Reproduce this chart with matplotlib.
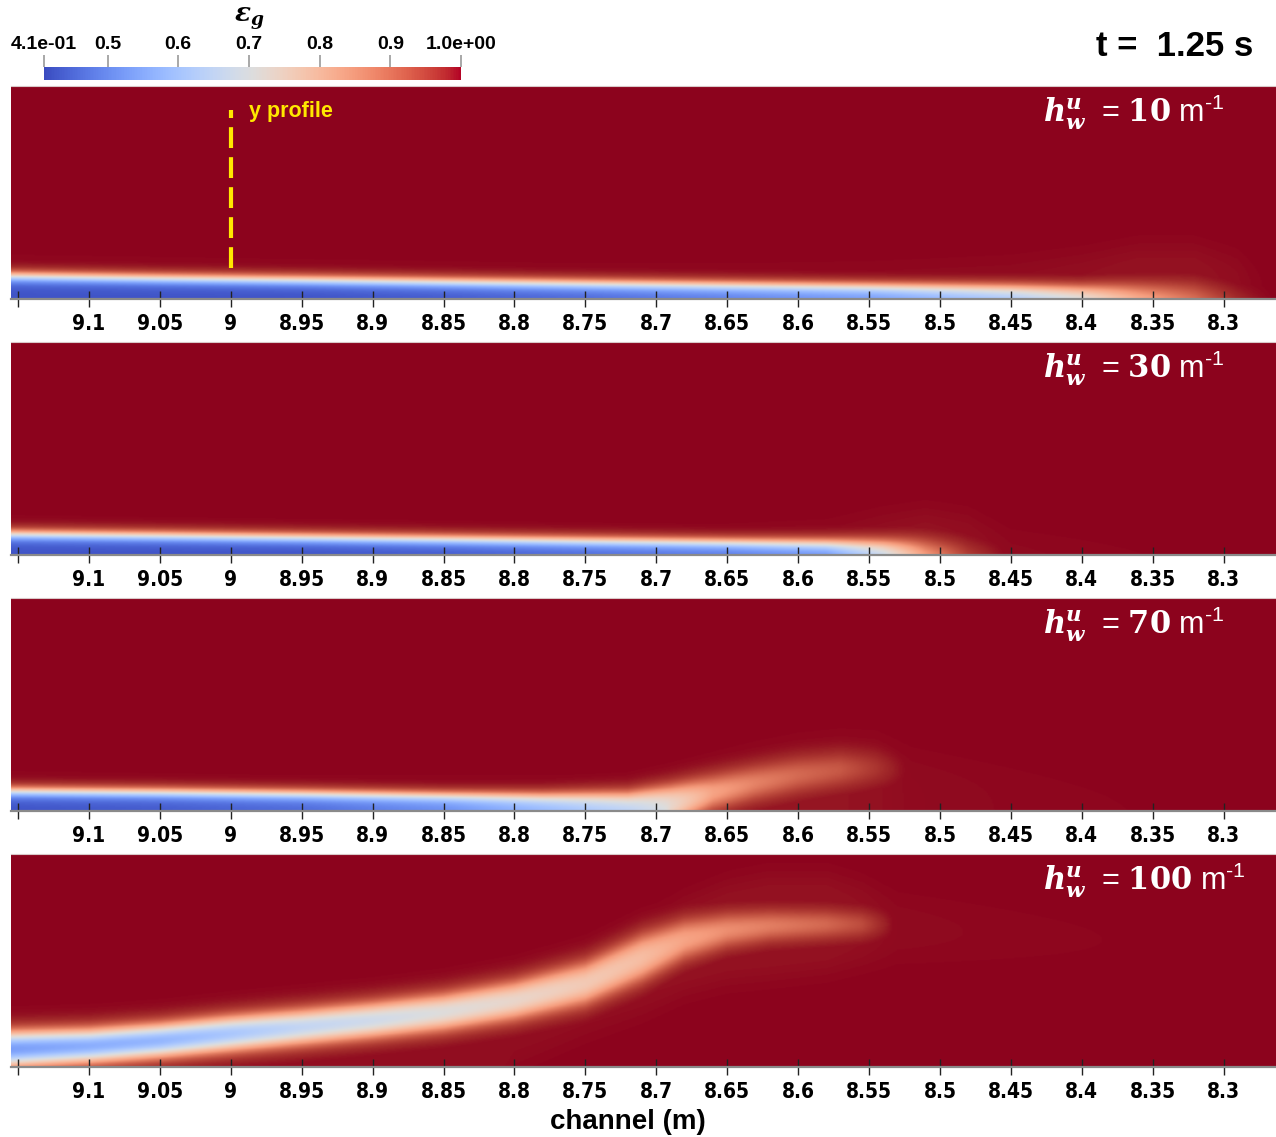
import numpy as np
import matplotlib
matplotlib.use("Agg")
import matplotlib.pyplot as plt
from matplotlib import font_manager
from matplotlib.colors import ListedColormap, Normalize
from matplotlib.cm import ScalarMappable

# ---------------- data ----------------
vmin_cb, vmax_cb = 0.41, 1.0
cb_ticks = [0.41, 0.5, 0.6, 0.7, 0.8, 0.9, 1.0]
cb_labels = ["4.1e-01", "0.5", "0.6", "0.7", "0.8", "0.9", "1.0e+00"]

x_ticks = [9.15, 9.1, 9.05, 9.0, 8.95, 8.9, 8.85, 8.8, 8.75, 8.7, 8.65, 8.6,
           8.55, 8.5, 8.45, 8.4, 8.35, 8.3]
x_labels = ["", "9.1", "9.05", "9", "8.95", "8.9", "8.85", "8.8", "8.75", "8.7",
            "8.65", "8.6", "8.55", "8.5", "8.45", "8.4", "8.35", "8.3"]
x_left, x_right = 9.155, 8.263

panel_values = ["10", "30", "70", "100"]

# layer description per panel: stations (m), lower / upper edge (fraction of
# panel height), edge softness, core gas fraction, faint halo extent/amplitude
p1_x    = [9.155, 9.05, 8.95, 8.85, 8.75, 8.65, 8.55, 8.45, 8.40, 8.36, 8.32, 8.29, 8.263]
p1_lo   = [-0.5] * 13
p1_hi   = [0.105, 0.095, 0.087, 0.078, 0.07, 0.063, 0.057, 0.05, 0.045, 0.05, 0.05, 0.03, 0.0]
p1_sm   = [0.016, 0.016, 0.016, 0.016, 0.016, 0.016, 0.016, 0.018, 0.02, 0.025, 0.03, 0.03, 0.03]
p1_core = [0.42, 0.42, 0.42, 0.43, 0.45, 0.48, 0.52, 0.60, 0.68, 0.80, 0.88, 0.96, 1.0]
p1_hlo  = [-0.5] * 13
p1_hhi  = [0.17, 0.16, 0.15, 0.14, 0.13, 0.13, 0.14, 0.17, 0.2, 0.24, 0.24, 0.2, 0.1]
p1_hamp = [0.008, 0.008, 0.008, 0.008, 0.008, 0.008, 0.008, 0.008, 0.01, 0.012, 0.012, 0.008, 0.0]

p2_x    = [9.155, 9.05, 8.95, 8.85, 8.75, 8.65, 8.58, 8.54, 8.51, 8.48, 8.45, 8.263]
p2_lo   = [-0.5] * 12
p2_hi   = [0.095, 0.088, 0.08, 0.072, 0.064, 0.057, 0.052, 0.05, 0.05, 0.04, 0.02, 0.0]
p2_sm   = [0.016, 0.016, 0.016, 0.016, 0.016, 0.016, 0.018, 0.022, 0.028, 0.03, 0.03, 0.03]
p2_core = [0.42, 0.42, 0.42, 0.43, 0.45, 0.47, 0.50, 0.64, 0.82, 0.94, 1.0, 1.0]
p2_hlo  = [-0.5] * 12
p2_hhi  = [0.15, 0.14, 0.13, 0.12, 0.11, 0.11, 0.13, 0.18, 0.2, 0.18, 0.1, 0.0]
p2_hamp = [0.008, 0.008, 0.008, 0.008, 0.008, 0.008, 0.008, 0.01, 0.012, 0.01, 0.006, 0.0]

p3_x    = [9.155, 9.05, 8.95, 8.85, 8.78, 8.72, 8.69, 8.66, 8.63, 8.60, 8.57, 8.545, 8.52, 8.263]
p3_lo   = [-0.5, -0.5, -0.5, -0.5, -0.5, -0.5, -0.05, 0.03, 0.08, 0.12, 0.15, 0.16, 0.16, 0.16]
p3_hi   = [0.09, 0.085, 0.078, 0.07, 0.066, 0.07, 0.10, 0.14, 0.18, 0.215, 0.235, 0.24, 0.22, 0.2]
p3_sm   = [0.016, 0.016, 0.016, 0.016, 0.018, 0.022, 0.026, 0.03, 0.032, 0.034, 0.035, 0.035, 0.035, 0.035]
p3_core = [0.42, 0.43, 0.45, 0.50, 0.57, 0.63, 0.70, 0.78, 0.82, 0.85, 0.87, 0.93, 1.0, 1.0]
p3_hlo  = [-0.5] * 14
p3_hhi  = [0.15, 0.14, 0.13, 0.13, 0.13, 0.14, 0.17, 0.22, 0.27, 0.31, 0.33, 0.33, 0.28, 0.0]
p3_hamp = [0.008, 0.008, 0.008, 0.008, 0.008, 0.008, 0.01, 0.012, 0.012, 0.012, 0.012, 0.01, 0.006, 0.0]

p4_x    = [9.155, 9.1, 9.05, 9.0, 8.95, 8.9, 8.85, 8.8, 8.75, 8.71, 8.68, 8.65, 8.62, 8.58, 8.555, 8.53, 8.263]
p4_lo   = [0.025, 0.045, 0.07, 0.1, 0.13, 0.16, 0.195, 0.245, 0.315, 0.425, 0.525, 0.585, 0.615, 0.63, 0.635, 0.64, 0.64]
p4_hi   = [0.14, 0.15, 0.175, 0.21, 0.24, 0.275, 0.315, 0.375, 0.465, 0.595, 0.665, 0.695, 0.705, 0.705, 0.70, 0.695, 0.695]
p4_sm   = [0.026, 0.026, 0.026, 0.027, 0.028, 0.028, 0.029, 0.03, 0.032, 0.033, 0.031, 0.029, 0.028, 0.028, 0.028, 0.028, 0.028]
p4_core = [0.42, 0.43, 0.45, 0.50, 0.55, 0.59, 0.63, 0.67, 0.72, 0.76, 0.80, 0.82, 0.83, 0.85, 0.89, 1.0, 1.0]
p4_hlo  = [-0.5, -0.5, -0.5, -0.5, -0.5, -0.5, -0.5, 0.0, 0.15, 0.25, 0.35, 0.4, 0.42, 0.45, 0.48, 0.5, 0.5]
p4_hhi  = [0.22, 0.22, 0.24, 0.28, 0.31, 0.34, 0.39, 0.45, 0.55, 0.68, 0.78, 0.86, 0.9, 0.9, 0.86, 0.8, 0.6]
p4_hamp = [0.008, 0.008, 0.008, 0.008, 0.008, 0.008, 0.008, 0.008, 0.009, 0.01, 0.012, 0.012, 0.012, 0.012, 0.01, 0.006, 0.0]

panels = [
    (p1_x, p1_lo, p1_hi, p1_sm, p1_core, p1_hlo, p1_hhi, p1_hamp),
    (p2_x, p2_lo, p2_hi, p2_sm, p2_core, p2_hlo, p2_hhi, p2_hamp),
    (p3_x, p3_lo, p3_hi, p3_sm, p3_core, p3_hlo, p3_hhi, p3_hamp),
    (p4_x, p4_lo, p4_hi, p4_sm, p4_core, p4_hlo, p4_hhi, p4_hamp),
]

# ---------------- fonts ----------------
cond = any(f.name == "DejaVu Sans" and str(f.stretch) in ("condensed", "semi-condensed")
           and (f.weight in ("bold", 700) or str(f.weight) == "700")
           for f in font_manager.fontManager.ttflist)
if cond:
    tick_font = dict(fontfamily="DejaVu Sans", fontstretch="condensed",
                     fontweight="bold", fontsize=15)
else:
    tick_font = dict(fontfamily="Liberation Sans", fontweight="bold", fontsize=15)

plt.rcParams["font.family"] = ["Liberation Sans", "DejaVu Sans"]
plt.rcParams["mathtext.fontset"] = "custom"
plt.rcParams["mathtext.rm"] = "Liberation Sans"
plt.rcParams["mathtext.it"] = "DejaVu Serif:italic"
plt.rcParams["mathtext.bf"] = "DejaVu Serif:bold"
plt.rcParams["mathtext.bfit"] = "DejaVu Serif:italic:bold"


def sig(z):
    return 1.0 / (1.0 + np.exp(-z))


def build_field(spec, X, Y):
    xs, lo, hi, sm, core, hlo, hhi, hamp = [np.asarray(a, float) for a in spec]
    r = slice(None, None, -1)
    f = lambda a: np.interp(X, xs[r], a[r])
    lo_, hi_, sm_, core_ = f(lo), f(hi), f(sm), f(core)
    hlo_, hhi_, hamp_ = f(hlo), f(hhi), f(hamp)
    band = (1 - core_) * sig((Y - lo_) / sm_) * sig((hi_ - Y) / sm_)
    halo = hamp_ * sig((Y - hlo_) / 0.04) * sig((hhi_ - Y) / 0.04)
    return 1.0 - np.maximum(band, halo)


# field colormap: coolwarm, darkened toward the top end
base = plt.get_cmap("coolwarm")(np.linspace(0, 1, 512))
vals = np.linspace(vmin_cb, vmax_cb, 512)
fac = np.where(vals < 0.85, 1.0, 1.0 - (vals - 0.85) / 0.15 * 0.22)
base[:, :3] *= fac[:, None]
field_cmap = ListedColormap(base)
norm = Normalize(vmin_cb, vmax_cb)

W, H = 1276, 1137
fig = plt.figure(figsize=(W / 100, H / 100), dpi=100)

xg = np.linspace(x_left, x_right, 900)
yg = np.linspace(0, 1, 260)
X, Y = np.meshgrid(xg, yg)

for i, spec in enumerate(panels):
    top = 86 + 256 * i
    bot = 299 + 256 * i
    ax = fig.add_axes([11 / W, 1 - bot / H, 1265 / W, (bot - top) / H])
    Z = build_field(spec, X, Y)
    ax.imshow(Z, extent=[x_left, x_right, 0, 1], origin="lower", aspect="auto",
              cmap=field_cmap, norm=norm, interpolation="bilinear")
    ax.set_xlim(x_left, x_right)
    ax.set_ylim(0, 1)
    ax.set_yticks([])
    ax.set_xticks(x_ticks)
    ax.set_xticklabels(x_labels, **tick_font)
    ax.tick_params(axis="x", direction="inout", length=11, width=1.0,
                   color="#222222", pad=5)
    for s in ["left", "right"]:
        ax.spines[s].set_visible(False)
    ax.spines["top"].set_color("#d9c8c8")
    ax.spines["top"].set_linewidth(0.8)
    ax.spines["bottom"].set_color("#8a8a8a")
    ax.spines["bottom"].set_linewidth(1.6)

    ax.text((1043 - 11) / 1265, 1 - 26 / 213,
            r"$\mathbfit{h}_{\mathbfit{w}}^{\mathbfit{u}}$  = $\mathbf{"
            + panel_values[i] + r"}$ m$^{\text{-1}}$",
            transform=ax.transAxes, ha="left", va="center", color="white",
            fontsize=22)

    if i == 0:
        ax.plot([9.0, 9.0], [0.146, 0.887], color="#ffe800", lw=3,
                dashes=(5, 2.2))
        ax.text((249 - 11) / 1265, 1 - (112 - 86) / 213, "y profile",
                transform=ax.transAxes, color="#ffe800", fontweight="bold",
                fontsize=15.5, ha="left", va="center")

fig.text(628 / W, 1 - 1122 / H, "channel (m)", fontsize=20, fontweight="bold",
         ha="center", va="center")

# colorbar
cax = fig.add_axes([44 / W, 1 - 80 / H, 417 / W, 13 / H])
cb = fig.colorbar(ScalarMappable(norm=norm, cmap="coolwarm"), cax=cax,
                  orientation="horizontal")
cb.outline.set_visible(False)
cax.xaxis.set_ticks_position("top")
cax.set_xticks(cb_ticks)
cax.set_xticklabels(cb_labels, fontweight="bold", fontsize=14)
cax.tick_params(axis="x", length=9, width=1.2, color="#9a9a9a", pad=1)
fig.text(249 / W, 1 - 19 / H, r"$\mathbfit{\varepsilon}_{\mathbfit{g}}$",
         ha="center", va="center", fontsize=19)

fig.text(1253 / W, 1 - 46 / H, "t =  1.25 s", ha="right", va="center",
         fontsize=25, fontweight="bold")

fig.savefig("out.png", dpi=100)
